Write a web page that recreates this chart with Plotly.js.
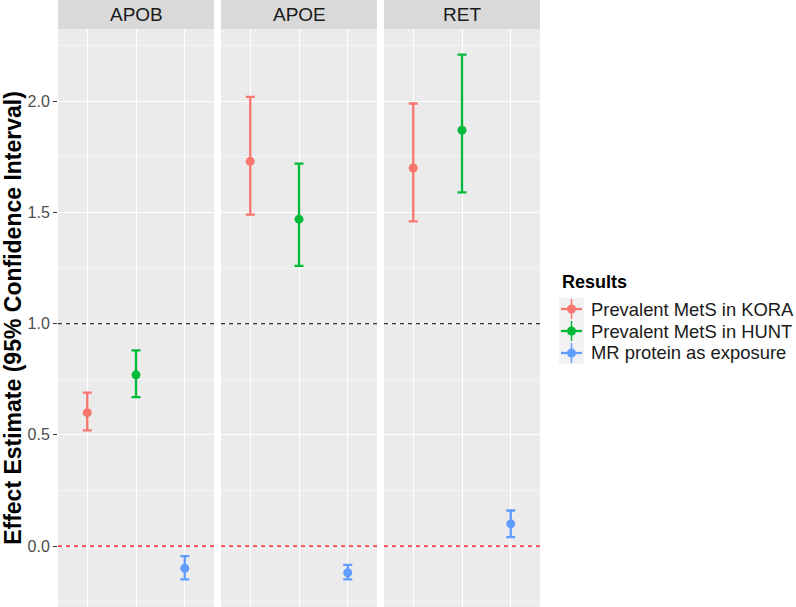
<!DOCTYPE html>
<html>
<head>
<meta charset="utf-8">
<script src="https://cdn.plot.ly/plotly-3.0.1.min.js"></script>
<style>html,body{margin:0;padding:0;background:#fff}#chart{width:796px;height:607px}</style>
</head>
<body>
<div id="chart"></div>
<script>
const proteins = ['APOB', 'APOE', 'RET'];
const seriesNames = ['Prevalent MetS in KORA', 'Prevalent MetS in HUNT', 'MR protein as exposure'];
const seriesColors = ['#F8766D', '#00BA38', '#619CFF'];
const legendTitle = 'Results';

const koraEst = [0.60, 1.73, 1.70];
const koraLow = [0.52, 1.49, 1.46];
const koraHigh = [0.69, 2.02, 1.99];

const huntEst = [0.77, 1.47, 1.87];
const huntLow = [0.67, 1.26, 1.59];
const huntHigh = [0.88, 1.72, 2.21];

const mrEst = [-0.10, -0.12, 0.10];
const mrLow = [-0.15, -0.15, 0.04];
const mrHigh = [-0.045, -0.085, 0.16];

const yTickVals = [0, 0.5, 1, 1.5, 2];
const yTickText = ['0.0', '0.5', '1.0', '1.5', '2.0'];

const est = [koraEst, huntEst, mrEst];
const low = [koraLow, huntLow, mrLow];
const high = [koraHigh, huntHigh, mrHigh];

const FONT = 'Liberation Sans, Arial, sans-serif';
const W = 796, H = 607, ML = 58, MR = 256, MT = 29, MB = 0;
const PW = W - ML - MR, PH = H - MT - MB;
const px = v => (v - ML) / PW;       // pixel x -> paper x
const py = v => (H - MB - v) / PH;   // pixel y -> paper y

const traces = [];
proteins.forEach((p, pi) => {
  const ax = pi === 0 ? '' : String(pi + 1);
  seriesNames.forEach((s, si) => {
    traces.push({
      type: 'scatter', mode: 'markers',
      x: [s], y: [est[si][pi]],
      xaxis: 'x' + ax, yaxis: 'y' + ax,
      name: s, showlegend: false,
      marker: {color: seriesColors[si], size: 9},
      error_y: {type: 'data', symmetric: false,
        array: [high[si][pi] - est[si][pi]],
        arrayminus: [est[si][pi] - low[si][pi]],
        color: seriesColors[si], thickness: 2.3, width: 4.5},
      hoverinfo: 'x+y'
    });
  });
});

const doms = [[0, 156/482], [163/482, 319/482], [326/482, 1]];
const yr = [-0.274, 2.325];
const layout = {
  width: W, height: H,
  margin: {l: ML, r: MR, t: MT, b: MB, autoexpand: false},
  paper_bgcolor: '#FFFFFF', plot_bgcolor: '#EBEBEB',
  font: {family: FONT, size: 16, color: '#4D4D4D'},
  showlegend: false,
  shapes: [],
  annotations: []
};

proteins.forEach((p, pi) => {
  const ax = pi === 0 ? '' : String(pi + 1);
  layout['xaxis' + ax] = {
    domain: doms[pi], anchor: 'y' + ax, type: 'category',
    categoryorder: 'array', categoryarray: seriesNames,
    range: [-0.6, 2.6], showticklabels: false, ticks: '',
    showgrid: true, gridcolor: '#FFFFFF', gridwidth: 1,
    zeroline: false, showline: false, fixedrange: true
  };
  layout['yaxis' + ax] = {
    anchor: 'x' + ax, range: yr,
    tickvals: yTickVals, ticktext: yTickText,
    showticklabels: pi === 0, ticks: pi === 0 ? 'outside' : '',
    ticklen: 4, tickcolor: '#333333', tickwidth: 1,
    tickfont: {family: FONT, size: 16, color: '#4D4D4D'},
    showgrid: true, gridcolor: '#FFFFFF', gridwidth: 1,
    minor: {tickvals: [-0.25, 0.25, 0.75, 1.25, 1.75, 2.25], showgrid: true, gridcolor: '#FFFFFF', gridwidth: 0.5, ticks: ''},
    zeroline: false, showline: false, fixedrange: true
  };
  if (pi > 0) layout['yaxis' + ax].matches = 'y';
  if (pi === 0) {
    layout.yaxis.title = {text: '<b>Effect Estimate (95% Confidence Interval)</b>', font: {family: FONT, size: 23, color: '#000'}, standoff: 6};
  }
  layout.shapes.push({type: 'rect', xref: 'x' + ax + ' domain', yref: 'paper',
    x0: 0, x1: 1, y0: 1, y1: 1 + MT/PH, fillcolor: '#D9D9D9', line: {width: 0}, layer: 'below'});
  layout.annotations.push({text: p, xref: 'x' + ax + ' domain', yref: 'paper',
    x: 0.5, y: 1 + (MT/2)/PH, xanchor: 'center', yanchor: 'middle', showarrow: false,
    font: {family: FONT, size: 19, color: '#1A1A1A'}});
  layout.shapes.push({type: 'line', xref: 'x' + ax + ' domain', yref: 'y' + ax,
    x0: 0, x1: 1, y0: 1, y1: 1, line: {color: '#333333', width: 1.2, dash: '4px,4px'}});
  layout.shapes.push({type: 'line', xref: 'x' + ax + ' domain', yref: 'y' + ax,
    x0: 0, x1: 1, y0: 0, y1: 0, line: {color: '#FF0000', width: 1.3, dash: '4px,4px'}});
});

// legend (ggplot style)
const keyX0 = 559, keyX1 = 584, rowH = 22, firstRow = 309;
layout.annotations.push({text: '<b>' + legendTitle + '</b>', xref: 'paper', yref: 'paper',
  x: px(560), y: py(282), xanchor: 'left', yanchor: 'middle', showarrow: false,
  font: {family: FONT, size: 18, color: '#000000'}});
layout.shapes.push({type: 'rect', xref: 'paper', yref: 'paper',
  x0: px(keyX0), x1: px(keyX1), y0: py(firstRow - rowH/2), y1: py(firstRow + rowH * (seriesNames.length - 0.5)),
  fillcolor: '#F2F2F2', line: {width: 0}});
seriesNames.forEach((s, si) => {
  const cy = firstRow + si * rowH, cx = (keyX0 + keyX1) / 2;
  layout.shapes.push({type: 'line', xref: 'paper', yref: 'paper',
    x0: px(cx), x1: px(cx), y0: py(cy - 10), y1: py(cy + 10), line: {color: seriesColors[si], width: 1.5}});
  layout.shapes.push({type: 'line', xref: 'paper', yref: 'paper',
    x0: px(keyX0 + 2), x1: px(keyX1 - 2), y0: py(cy), y1: py(cy), line: {color: seriesColors[si], width: 2.3}});
  layout.shapes.push({type: 'circle', xref: 'paper', yref: 'paper',
    x0: px(cx - 4.5), x1: px(cx + 4.5), y0: py(cy - 4.5), y1: py(cy + 4.5),
    fillcolor: seriesColors[si], line: {width: 0}});
  layout.annotations.push({text: s, xref: 'paper', yref: 'paper',
    x: px(589), y: py(cy), xanchor: 'left', yanchor: 'middle', showarrow: false,
    font: {family: FONT, size: 18.4, color: '#1A1A1A'}});
});

Plotly.newPlot('chart', traces, layout, {displayModeBar: false, staticPlot: true});
</script>
</body>
</html>
